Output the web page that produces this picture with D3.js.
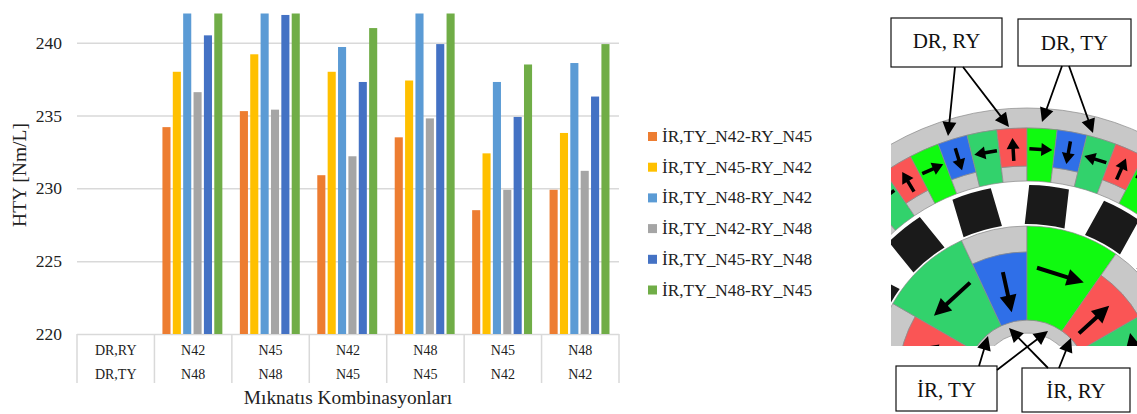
<!DOCTYPE html>
<html>
<head>
<meta charset="utf-8">
<script src="https://cdn.jsdelivr.net/npm/d3@7"></script>
<style>
  html, body { margin: 0; padding: 0; background: #fff; }
  svg { display: block; font-family: "Liberation Serif", serif; }
</style>
</head>
<body>
<svg id="chart"></svg>
<script>
// Chart data (null = no bar, values over 242 are cut off by the axis)
var rowRy = ["DR,RY", "N42", "N45", "N42", "N48", "N45", "N48"];
var rowTy = ["DR,TY", "N48", "N48", "N45", "N45", "N42", "N42"];
var seriesNames = ["İR,TY_N42-RY_N45", "İR,TY_N45-RY_N42", "İR,TY_N48-RY_N42", "İR,TY_N42-RY_N48", "İR,TY_N45-RY_N48", "İR,TY_N48-RY_N45"];
var seriesColors = ["#ED7D31", "#FFC000", "#5B9BD5", "#A5A5A5", "#4472C4", "#70AD47"];
var s1 = [null, 234.2, 235.3, 230.9, 233.5, 228.5, 229.9];
var s2 = [null, 238.0, 239.2, 238.0, 237.4, 232.4, 233.8];
var s3 = [null, 243.0, 243.0, 239.7, 243.0, 237.3, 238.6];
var s4 = [null, 236.6, 235.4, 232.2, 234.8, 229.9, 231.2];
var s5 = [null, 240.5, 241.9, 237.3, 239.9, 234.9, 236.3];
var s6 = [null, 243.0, 243.0, 241.0, 243.0, 238.5, 239.9];
var allSeries = [s1, s2, s3, s4, s5, s6];
var yTicks = [220, 225, 230, 235, 240];

// Motor cross-section (angles in degrees from the top, clockwise)
var outerColors = ["#10fa10", "#2f6fe8", "#32d26c", "#fa5555"];
var outerKinds = ["cw", "in", "ccw", "out"];
var outerIndexes = [-8, -7, -6, -5, -4, -3, -2, -1, 0, 1, 2, 3, 4, 5, 6, 7];
var blockAngles = [-61.5, -39, -16.5, 6.5, 29, 51.5];
var innerSegments = [
    { start: -155, end: -120, color: "#fa5555", kind: "out" },
    { start: -120, end: -85, color: "#10fa10", kind: "cw" },
    { start: -85, end: -60, color: "#fa5555", kind: "out" },
    { start: -60, end: -25, color: "#32d26c", kind: "ccw" },
    { start: -25, end: 0, color: "#2f6fe8", kind: "in" },
    { start: 0, end: 35, color: "#10fa10", kind: "cw" },
    { start: 35, end: 60, color: "#fa5555", kind: "out" },
    { start: 60, end: 95, color: "#32d26c", kind: "ccw" },
    { start: 95, end: 120, color: "#2f6fe8", kind: "in" }
];
var labelBoxes = [
    { text: "DR, RY", x: 891, y: 18, w: 111, h: 49, base: 48 },
    { text: "DR, TY", x: 1018, y: 19, w: 113, h: 47, base: 50 },
    { text: "İR, TY", x: 896, y: 366, w: 101, h: 45, base: 397 },
    { text: "İR, RY", x: 1022, y: 368, w: 108, h: 44, base: 398 }
];
var labelArrows = [
    [955, 67, 948, 136], [963, 67, 1009, 127],
    [1062, 66, 1042, 122], [1069, 66, 1093, 133],
    [979, 366, 988, 336], [997, 370, 1048, 331],
    [1048, 368, 1009, 328], [1059, 368, 1071, 338]
];

var w = 1137;
var h = 414;
var margin = { top: 13.5, right: 518, bottom: 80, left: 77 };
var grid = "#d9d9d9";

var svg = d3.select("#chart").attr("width", w).attr("height", h);

// Scales
var xScale = d3.scaleBand()
    .domain(d3.range(rowRy.length))
    .range([margin.left, w - margin.right]);

var seriesScale = d3.scaleBand()
    .domain(d3.range(allSeries.length))
    .range([8, xScale.bandwidth() - 9.5])
    .paddingInner(0.22);

var yScale = d3.scaleLinear()
    .domain([220, 242])
    .range([h - margin.bottom, margin.top])
    .clamp(true);

// Y axis with gridlines
var yAxis = svg.append("g")
    .attr("transform", "translate(" + margin.left + ",0)")
    .call(d3.axisLeft(yScale).tickValues(yTicks).tickSize(-(w - margin.right - margin.left)).tickPadding(15));
yAxis.select(".domain").remove();
yAxis.selectAll("line").attr("stroke", grid).attr("stroke-width", 1.5);
yAxis.selectAll("text").attr("font-family", "Liberation Serif").attr("font-size", "17.5px").attr("fill", "#222");

// Bars
allSeries.forEach(function (values, i) {
    svg.append("g").selectAll("rect")
        .data(values.map(function (v, j) { return { v: v, j: j }; }).filter(function (d) { return d.v !== null; }))
        .enter().append("rect")
        .attr("x", function (d) { return xScale(d.j) + seriesScale(i); })
        .attr("y", function (d) { return yScale(d.v); })
        .attr("width", seriesScale.bandwidth())
        .attr("height", function (d) { return yScale(220) - yScale(d.v); })
        .attr("fill", seriesColors[i]);
});

// Two-level category axis
function categoryRow(labels, y) {
    var axis = svg.append("g")
        .attr("transform", "translate(0," + y + ")")
        .call(d3.axisBottom(xScale).tickSize(0).tickPadding(0).tickFormat(function (d) { return labels[d]; }));
    axis.select(".domain").remove();
    axis.selectAll("text").attr("font-family", "Liberation Serif").attr("font-size", "14px").attr("fill", "#222").attr("dy", "0");
}
categoryRow(rowRy, 355);
categoryRow(rowTy, 379);

svg.append("g").selectAll("line")
    .data(d3.range(rowRy.length + 1))
    .enter().append("line")
    .attr("x1", function (d) { return margin.left + d * xScale.step(); })
    .attr("x2", function (d) { return margin.left + d * xScale.step(); })
    .attr("y1", yScale(220))
    .attr("y2", 383)
    .attr("stroke", grid)
    .attr("stroke-width", 1.5);

// Axis titles
svg.append("text")
    .attr("text-anchor", "middle")
    .attr("x", 348)
    .attr("y", 404)
    .attr("font-size", "19.4px")
    .attr("fill", "#222")
    .text("Mıknatıs Kombinasyonları");

svg.append("text")
    .attr("text-anchor", "middle")
    .attr("transform", "translate(26,175) rotate(-90)")
    .attr("font-size", "19.5px")
    .attr("fill", "#222")
    .text("HTY [Nm/L]");

// Legend
var legend = svg.append("g").selectAll("g")
    .data(seriesNames)
    .enter().append("g")
    .attr("transform", function (d, i) { return "translate(648," + (136.5 + i * 30.7) + ")"; });
legend.append("rect")
    .attr("y", -4.5)
    .attr("width", 9)
    .attr("height", 9)
    .attr("fill", function (d, i) { return seriesColors[i]; });
legend.append("text")
    .attr("x", 14)
    .attr("y", 5.5)
    .attr("font-size", "17.3px")
    .attr("fill", "#222")
    .text(function (d) { return d; });

// Motor cross-section
var cx = 1027;
var cy = 381;
var rad = Math.PI / 180;
var outerStep = 6.85;

svg.append("clipPath").attr("id", "motorClip")
    .append("rect").attr("x", 891).attr("y", 0).attr("width", 246).attr("height", 346);

var motor = svg.append("g")
    .attr("clip-path", "url(#motorClip)")
    .append("g")
    .attr("transform", "translate(" + cx + "," + cy + ")");

var arc = d3.arc();

function ringPiece(r0, r1, a0, a1, color) {
    motor.append("path")
        .attr("d", arc({ innerRadius: r0, outerRadius: r1, startAngle: a0 * rad, endAngle: a1 * rad }))
        .attr("fill", color)
        .attr("stroke", "#8a8a8a")
        .attr("stroke-width", 0.7);
}

function polar(angle, r) {
    return [r * Math.sin(angle * rad), -r * Math.cos(angle * rad)];
}

// Filled arrow from (x1,y1) to (x2,y2) on the given group
function drawArrow(g, x1, y1, x2, y2, shaft, headL, headW) {
    var len = Math.hypot(x2 - x1, y2 - y1);
    var ux = (x2 - x1) / len;
    var uy = (y2 - y1) / len;
    var bx = x2 - ux * headL;
    var by = y2 - uy * headL;
    var points = [
        [x1 - uy * shaft / 2, y1 + ux * shaft / 2],
        [bx - uy * shaft / 2, by + ux * shaft / 2],
        [bx - uy * headW / 2, by + ux * headW / 2],
        [x2, y2],
        [bx + uy * headW / 2, by - ux * headW / 2],
        [bx + uy * shaft / 2, by - ux * shaft / 2],
        [x1 + uy * shaft / 2, y1 - ux * shaft / 2]
    ];
    g.append("polygon").attr("points", points.join(" ")).attr("fill", "#000");
}

function magnetArrow(kind, angle, r, len, shaft, headL, headW) {
    var m = polar(angle, r);
    var t = angle * rad;
    var dir = {
        out: [Math.sin(t), -Math.cos(t)],
        "in": [-Math.sin(t), Math.cos(t)],
        cw: [Math.cos(t), Math.sin(t)],
        ccw: [-Math.cos(t), -Math.sin(t)]
    }[kind];
    drawArrow(motor, m[0] - dir[0] * len / 2, m[1] - dir[1] * len / 2, m[0] + dir[0] * len / 2, m[1] + dir[1] * len / 2, shaft, headL, headW);
}

// Outer rotor
ringPiece(253, 273, -60, 60, "#c8c8c8");
outerIndexes.forEach(function (k) {
    var idx = ((k % 4) + 4) % 4;
    var a0 = k * outerStep;
    var a1 = (k + 1) * outerStep;
    if (outerKinds[idx] === "in" || outerKinds[idx] === "out") {
        ringPiece(200, 215, a0, a1, "#c8c8c8");
        ringPiece(215, 253, a0, a1, outerColors[idx]);
    } else {
        ringPiece(200, 253, a0, a1, outerColors[idx]);
    }
    magnetArrow(outerKinds[idx], (a0 + a1) / 2, 232, 23, 3.5, 11, 13);
});

// Stator blocks
blockAngles.forEach(function (a) {
    var hw = 20;
    var outerY = -Math.sqrt(196 * 196 - hw * hw);
    var innerY = -Math.sqrt(157 * 157 - hw * hw);
    motor.append("path")
        .attr("transform", "rotate(" + a + ")")
        .attr("d", "M" + (-hw) + "," + innerY + "L" + (-hw) + "," + outerY
            + "A196,196 0 0 1 " + hw + "," + outerY
            + "L" + hw + "," + innerY
            + "A157,157 0 0 0 " + (-hw) + "," + innerY + "Z")
        .attr("fill", "#1a1a1a");
});

// Inner rotor
ringPiece(48, 61, -155, 120, "#c8c8c8");
innerSegments.forEach(function (s) {
    var tangential = s.kind === "cw" || s.kind === "ccw";
    if (tangential) {
        ringPiece(61, 155, s.start, s.end, s.color);
    } else {
        ringPiece(129, 155, s.start, s.end, "#c8c8c8");
        ringPiece(61, 129, s.start, s.end, s.color);
    }
    magnetArrow(s.kind, (s.start + s.end) / 2, tangential ? 111 : 91, tangential ? 49 : 41, 4, 17, 17);
});

// Label boxes and their arrows
var labels = svg.append("g");
labelBoxes.forEach(function (b) {
    labels.append("rect")
        .attr("x", b.x).attr("y", b.y)
        .attr("width", b.w).attr("height", b.h)
        .attr("fill", "#fff")
        .attr("stroke", "#111")
        .attr("stroke-width", 1.2);
    labels.append("text")
        .attr("x", b.x + b.w / 2)
        .attr("y", b.base)
        .attr("text-anchor", "middle")
        .attr("font-size", "21px")
        .attr("fill", "#111")
        .text(b.text);
});
labelArrows.forEach(function (a) {
    drawArrow(labels, a[0], a[1], a[2], a[3], 1.8, 14, 14);
});
</script>
</body>
</html>
